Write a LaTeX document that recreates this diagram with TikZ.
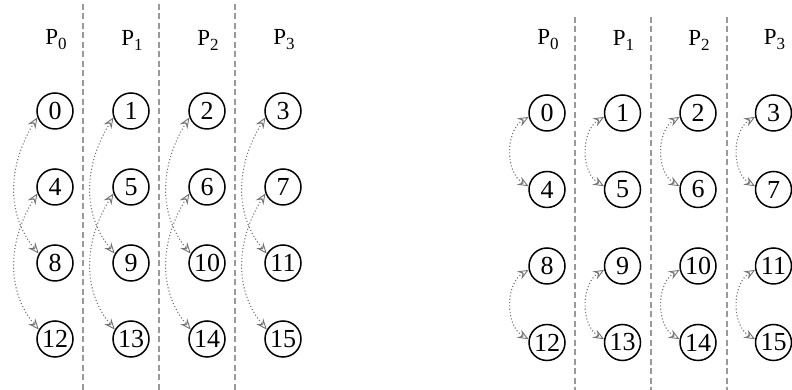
\documentclass[tikz,border=0pt]{standalone}
\usepackage{fontspec}
\setmainfont{Liberation Serif}
\usetikzlibrary{arrows.meta}
\definecolor{sepgray}{gray}{0.6}
\definecolor{arrgray}{gray}{0.45}
\tikzset{
  proc/.style={circle, draw=black, line width=1.5pt, minimum size=36pt, inner sep=1pt,
    font=\fontsize{26}{26}\selectfont},
  plabel/.style={font=\fontsize{23}{23}\selectfont, inner sep=0pt},
  sepline/.style={draw=sepgray, line width=1.5pt, dash pattern=on 6pt off 3.5pt},
  xtip/.tip={Stealth[open,length=11pt,width=9pt,line width=0.9pt,inset=4pt]},
  xchg/.style={draw=arrgray, line width=1.1pt, dash pattern=on 1.1pt off 2.2pt, xtip-xtip}
}
\newcommand{\plab}[1]{P\raisebox{-5pt}{\fontsize{17}{17}\selectfont #1}}
\begin{document}
\begin{tikzpicture}[x=1pt,y=1pt]
\useasboundingbox (0,0) rectangle (792,390);
% separators
\foreach \x in {83,159,235} \draw[sepline] (\x,386) -- (\x,0);
\foreach \x in {575,651,727} \draw[sepline] (\x,373) -- (\x,0);
% left group
\foreach \c/\x in {0/55,1/131,2/207,3/283}{
  \node[plabel] (LP\c) at (\x+1,350) {\plab{\c}};
  \foreach \r/\y in {0/279,1/203,2/127,3/51}{
    \pgfmathtruncatemacro{\n}{4*\r+\c}
    \node[proc] (L\n) at (\x,\y) {\n};
  }
}
% right group
\foreach \c/\x in {0/547,1/622.5,2/698,3/773.5}{
  \node[plabel] (RP\c) at (\x+1,350) {\plab{\c}};
  \foreach \r/\y in {0/277,1/200.5,2/124,3/47.5}{
    \pgfmathtruncatemacro{\n}{4*\r+\c}
    \node[proc] (R\n) at (\x,\y) {\n};
  }
}
% left exchanges (distance 8)
\foreach \c in {0,1,2,3}{
  \pgfmathtruncatemacro{\a}{\c}
  \pgfmathtruncatemacro{\b}{\c+8}
  \pgfmathtruncatemacro{\e}{\c+4}
  \pgfmathtruncatemacro{\f}{\c+12}
  \draw[xchg] (L\a.200) to[out=238,in=130] (L\b.150);
  \draw[xchg] (L\e.200) to[out=238,in=130] (L\f.150);
}
% right exchanges (distance 4)
\foreach \c in {0,1,2,3}{
  \pgfmathtruncatemacro{\a}{\c}
  \pgfmathtruncatemacro{\b}{\c+4}
  \pgfmathtruncatemacro{\e}{\c+8}
  \pgfmathtruncatemacro{\f}{\c+12}
  \draw[xchg] (R\a.192) to[out=210,in=150] (R\b.170);
  \draw[xchg] (R\e.192) to[out=210,in=150] (R\f.170);
}
\end{tikzpicture}
\end{document}
